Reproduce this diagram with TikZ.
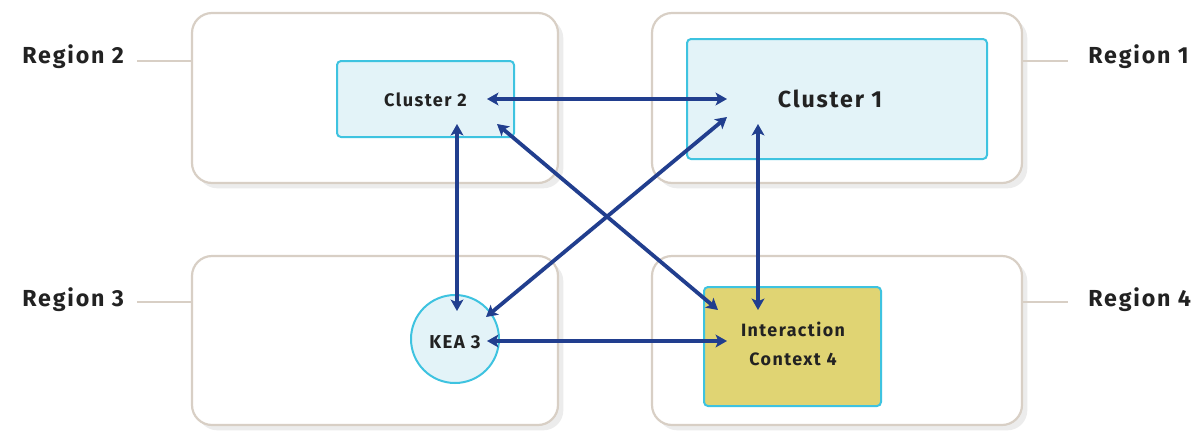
\documentclass[tikz,border=0pt]{standalone}
\usepackage{fontspec}
\setmainfont{Fira Sans}
\newfontfamily\trk{Fira Sans}[LetterSpace=8]
\usetikzlibrary{shadows,arrows.meta}
\definecolor{regline}{HTML}{D8CFC5}
\definecolor{cyanline}{HTML}{3EC3E0}
\definecolor{cfill}{HTML}{E3F3F8}
\definecolor{yfill}{HTML}{E0D473}
\definecolor{arr}{HTML}{213E8E}
\definecolor{txt}{HTML}{222222}
\tikzset{
  region/.style={draw=regline, line width=2.2pt*0.75, fill=white, rounded corners=15pt,
    drop shadow={shadow xshift=4pt, shadow yshift=-4pt, opacity=0.12, fill=black!60}},
  leader/.style={draw=regline, line width=1.6pt*0.75},
  rlabel/.style={font=\trk\bfseries\fontsize{17.4}{20}\selectfont, text=txt, inner sep=0pt, anchor=base west},
  clbox/.style={draw=cyanline, fill=cfill, line width=2pt*0.75, rounded corners=3pt},
  conn/.style={draw=arr, line width=3.8pt*0.75, {Stealth[length=8.5pt,width=9.5pt,inset=2pt]}-{Stealth[length=8.5pt,width=9.5pt,inset=2pt]}},
  ntext/.style={text=txt, inner sep=0pt},
}
\begin{document}
\begin{tikzpicture}[x=0.75pt,y=-0.75pt]
\useasboundingbox (0,0) rectangle (1202,440);
% regions
\path[region] (192,13) rectangle (558,183);
\path[region] (652,13) rectangle (1022,183);
\path[region] (192,256) rectangle (558,425);
\path[region] (652,256) rectangle (1022,425);
% leaders
\coordinate (r2a) at (137,61); \coordinate (r2b) at (192,61);
\coordinate (r1a) at (1022,61); \coordinate (r1b) at (1068,61);
\coordinate (r3a) at (137,302); \coordinate (r3b) at (192,302);
\coordinate (r4a) at (1022,302); \coordinate (r4b) at (1068,302);
\draw[leader] (r2a) -- (r2b);
\draw[leader] (r1a) -- (r1b);
\draw[leader] (r3a) -- (r3b);
\draw[leader] (r4a) -- (r4b);
\node[rlabel] (L2) at (22,63) {Region 2};
\node[rlabel] (L1) at (1088,63) {Region 1};
\node[rlabel] (L3) at (22,306) {Region 3};
\node[rlabel] (L4) at (1088,306) {Region 4};
% inner nodes
\path[clbox] (337,61) rectangle (514,137);
\node[ntext, anchor=base, font=\trk\bfseries\fontsize{13.6}{16}\selectfont] (c2) at (425.5,106) {Cluster 2};
\path[clbox] (687,39) rectangle (987,159);
\node[ntext, anchor=base, font=\trk\bfseries\fontsize{17.4}{20}\selectfont] (c1) at (830,107) {Cluster 1};
\node[circle, draw=cyanline, fill=cfill, line width=2pt*0.75, minimum size=88*0.75pt, inner sep=0pt] (k3) at (455,339) {};
\node[ntext, anchor=base, font=\trk\bfseries\fontsize{14}{16}\selectfont] (k3t) at (455,348) {KEA 3};
\path[draw=cyanline, fill=yfill, line width=2pt*0.75, rounded corners=3pt] (704,287) rectangle (881,406);
\node[ntext, align=center, font=\trk\bfseries\fontsize{13.4}{21.75}\selectfont] (ic) at (793,344) {Interaction\\Context 4};
% connector endpoints
\coordinate (c2e) at (487,99);
\coordinate (c1w) at (727,99);
\coordinate (c2s) at (457,124);
\coordinate (k3n) at (457,311);
\coordinate (c2se) at (497,124);
\coordinate (icnw) at (718,310);
\coordinate (c1sw) at (727,117);
\coordinate (k3ne) at (486,317);
\coordinate (c1s) at (758,124);
\coordinate (icn) at (758,310);
\coordinate (k3e) at (487,341);
\coordinate (icw) at (727,341);
\draw[conn] (c2e) -- (c1w);
\draw[conn] (c2s) -- (k3n);
\draw[conn] (c2se) -- (icnw);
\draw[conn] (c1sw) -- (k3ne);
\draw[conn] (c1s) -- (icn);
\draw[conn] (k3e) -- (icw);
\end{tikzpicture}
\end{document}
